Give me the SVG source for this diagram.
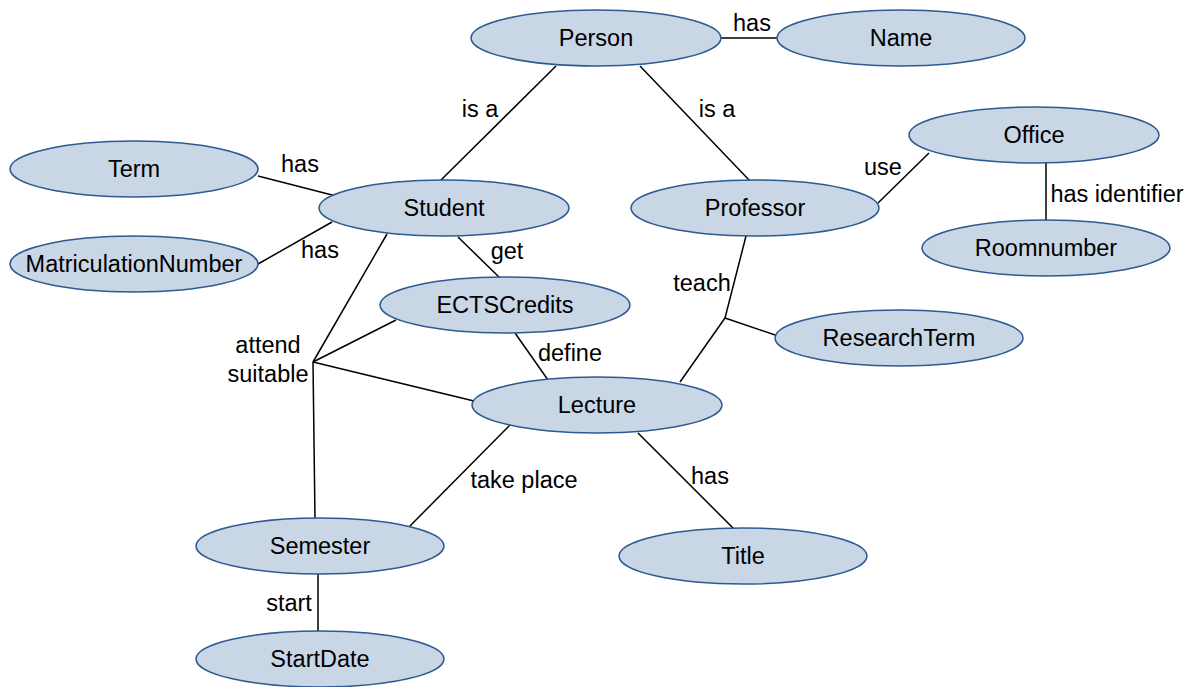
<svg xmlns="http://www.w3.org/2000/svg" width="1198" height="687" viewBox="0 0 1198 687">
  <style>
    .node ellipse { fill: #c8d6e6; stroke: #2e5a91; stroke-width: 1.5; }
    text { font-family: "Liberation Sans", Arial, sans-serif; font-size: 23.5px; fill: #000; }
    .node text { text-anchor: middle; dominant-baseline: central; }
    .lbl { text-anchor: middle; dominant-baseline: central; }
    #connectors line { stroke: #000; stroke-width: 1.5; fill: none; }
  </style>
  <rect width="1198" height="687" fill="#fff"/>

  <!-- relationships -->
  <g id="connectors">
    <line x1="721" y1="38" x2="777" y2="38"/>
    <line x1="556" y1="66" x2="440" y2="181"/>
    <line x1="640" y1="66" x2="750" y2="181"/>
    <line x1="258" y1="176" x2="336" y2="196"/>
    <line x1="258" y1="264" x2="332" y2="222"/>
    <line x1="929" y1="153" x2="878" y2="203"/>
    <line x1="1046" y1="163" x2="1046" y2="221"/>
    <line x1="458" y1="237" x2="500" y2="278"/>
    <!-- attend / suitable junction -->
    <line x1="387" y1="234" x2="313" y2="362"/>
    <line x1="313" y1="362" x2="396" y2="320"/>
    <line x1="313" y1="362" x2="474" y2="401"/>
    <line x1="313" y1="362" x2="315" y2="519"/>
    <line x1="515" y1="333" x2="548" y2="380"/>
    <!-- teach junction -->
    <line x1="746" y1="236" x2="725" y2="318"/>
    <line x1="725" y1="318" x2="778" y2="336"/>
    <line x1="725" y1="318" x2="680" y2="382"/>
    <line x1="510" y1="425" x2="408" y2="528"/>
    <line x1="638" y1="433" x2="735" y2="530"/>
    <line x1="318" y1="574" x2="318" y2="632"/>
  </g>

  <g id="labels">
    <text class="lbl" x="752" y="23">has</text>
    <text class="lbl" x="480" y="109">is a</text>
    <text class="lbl" x="717" y="109">is a</text>
    <text class="lbl" x="300" y="164">has</text>
    <text class="lbl" x="320" y="250">has</text>
    <text class="lbl" x="883" y="167">use</text>
    <text class="lbl" x="1117" y="194">has identifier</text>
    <text class="lbl" x="507" y="251">get</text>
    <text class="lbl" x="268" y="345">attend</text>
    <text class="lbl" x="268" y="374">suitable</text>
    <text class="lbl" x="570" y="353">define</text>
    <text class="lbl" x="702" y="283">teach</text>
    <text class="lbl" x="524" y="480">take place</text>
    <text class="lbl" x="710" y="476">has</text>
    <text class="lbl" x="289" y="603">start</text>
  </g>

  <g id="person" class="node"><ellipse cx="596" cy="38" rx="125" ry="28"/><text x="596" y="38">Person</text></g>
  <g id="name" class="node"><ellipse cx="901" cy="38" rx="124" ry="28"/><text x="901" y="38">Name</text></g>
  <g id="term" class="node"><ellipse cx="134" cy="169" rx="124" ry="28"/><text x="134" y="169">Term</text></g>
  <g id="student" class="node"><ellipse cx="444" cy="208" rx="125" ry="28"/><text x="444" y="208">Student</text></g>
  <g id="matriculation-number" class="node"><ellipse cx="134" cy="264" rx="124" ry="28"/><text x="134" y="264">MatriculationNumber</text></g>
  <g id="office" class="node"><ellipse cx="1034" cy="135" rx="125" ry="28"/><text x="1034" y="135">Office</text></g>
  <g id="professor" class="node"><ellipse cx="755" cy="208" rx="124" ry="28"/><text x="755" y="208">Professor</text></g>
  <g id="roomnumber" class="node"><ellipse cx="1046" cy="248" rx="124" ry="28"/><text x="1046" y="248">Roomnumber</text></g>
  <g id="ects-credits" class="node"><ellipse cx="505" cy="305" rx="125" ry="28"/><text x="505" y="305">ECTSCredits</text></g>
  <g id="research-term" class="node"><ellipse cx="899" cy="338" rx="124" ry="28"/><text x="899" y="338">ResearchTerm</text></g>
  <g id="lecture" class="node"><ellipse cx="597" cy="405" rx="125" ry="28"/><text x="597" y="405">Lecture</text></g>
  <g id="semester" class="node"><ellipse cx="320" cy="546" rx="124" ry="28"/><text x="320" y="546">Semester</text></g>
  <g id="title" class="node"><ellipse cx="743" cy="556" rx="124" ry="28"/><text x="743" y="556">Title</text></g>
  <g id="start-date" class="node"><ellipse cx="320" cy="659" rx="124" ry="28"/><text x="320" y="659">StartDate</text></g>
</svg>
